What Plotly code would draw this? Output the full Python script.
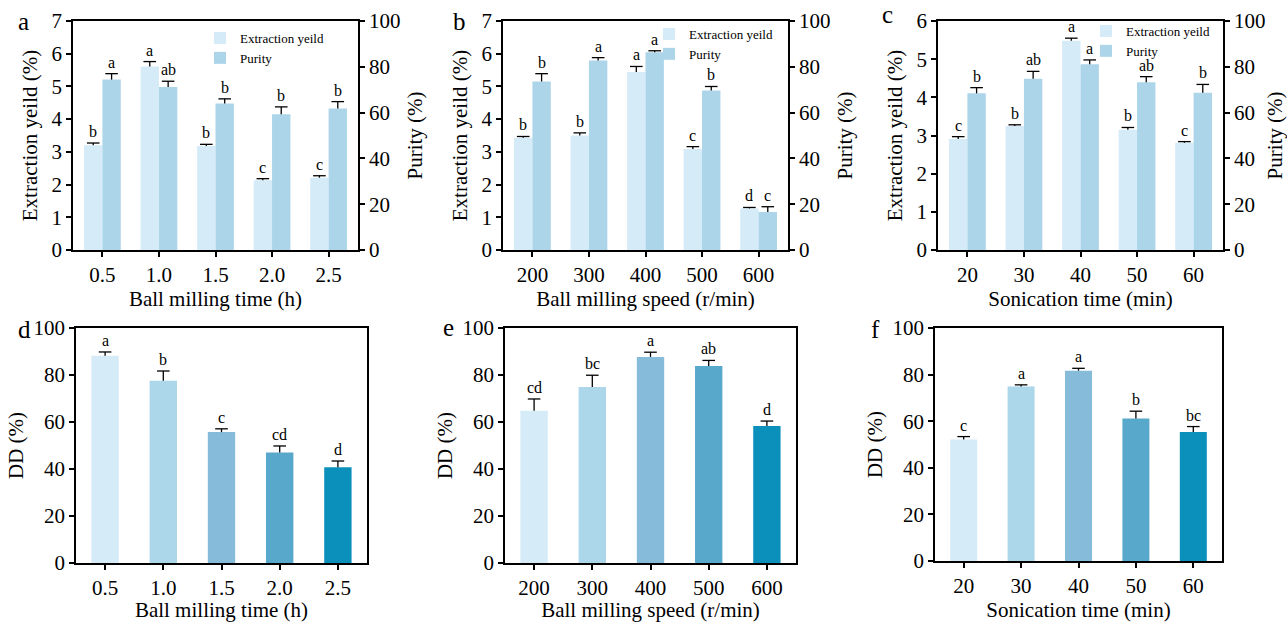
import plotly.graph_objects as go

# ---------------- data ----------------
time_cats = ["0.5", "1.0", "1.5", "2.0", "2.5"]
speed_cats = ["200", "300", "400", "500", "600"]
sonic_cats = ["20", "30", "40", "50", "60"]

a_yield = [3.20, 5.61, 3.18, 2.13, 2.21]
a_yield_err = [0.07, 0.15, 0.05, 0.05, 0.06]
a_yield_sig = ["b", "a", "b", "c", "c"]
a_purity = [74.4, 71.2, 64.0, 59.3, 61.8]
a_purity_err = [2.6, 2.5, 2.0, 3.2, 3.0]
a_purity_sig = ["a", "ab", "b", "b", "b"]

b_yield = [3.43, 3.50, 5.44, 3.09, 1.27]
b_yield_err = [0.04, 0.08, 0.17, 0.07, 0.03]
b_yield_sig = ["b", "b", "a", "c", "d"]
b_purity = [73.6, 82.8, 86.4, 69.7, 16.6]
b_purity_err = [3.4, 1.2, 0.6, 1.7, 2.3]
b_purity_sig = ["b", "a", "a", "b", "c"]

c_yield = [2.91, 3.25, 5.48, 3.15, 2.81]
c_yield_err = [0.06, 0.03, 0.07, 0.06, 0.03]
c_yield_sig = ["c", "b", "a", "b", "c"]
c_purity = [68.4, 74.8, 81.1, 73.2, 68.7]
c_purity_err = [2.5, 3.2, 1.9, 2.5, 3.6]
c_purity_sig = ["b", "ab", "a", "ab", "b"]

d_dd = [88.2, 77.6, 55.7, 47.0, 40.7]
d_err = [1.6, 4.1, 1.4, 2.8, 2.7]
d_sig = ["a", "b", "c", "cd", "d"]

e_dd = [64.8, 74.9, 87.7, 83.8, 58.3]
e_err = [5.0, 5.0, 2.0, 2.4, 2.1]
e_sig = ["cd", "bc", "a", "ab", "d"]

f_dd = [52.1, 74.9, 81.7, 61.2, 55.4]
f_err = [1.3, 0.7, 1.0, 3.1, 2.3]
f_sig = ["c", "a", "a", "b", "bc"]

# ---------------- style ----------------
W, H = 1287, 622
FONT = "Liberation Serif, Times New Roman, serif"
YIELD_C = "#d5ebf8"
PURITY_C = "#acd5ea"
DD_COLORS = ["#d5ebf8", "#acd6ea", "#86bcd9", "#58a8cb", "#0b90bb"]
TICK_FS = 21
TITLE_FS = 21
SIG_FS = 16
BW = 0.325  # grouped bar width (category units)
DDW = 0.47


def px_x(a, b):
    return [a / W, b / W]


def px_y(top, bottom):
    return [1 - bottom / H, 1 - top / H]


fig = go.Figure()
annotations = []


def base_axis():
    return dict(
        showline=True, linecolor="black", linewidth=1.6,
        ticks="outside", ticklen=5, tickwidth=1.5, tickcolor="black",
        tickfont=dict(family=FONT, size=TICK_FS, color="black"),
        showgrid=False, zeroline=False, automargin=False, fixedrange=True,
    )


def stem(arr):
    return dict(type="data", array=arr, arrayminus=[0] * len(arr), symmetric=False,
                color="black", thickness=1.3, width=0)


def add_caps(xs, tops, xa, ya):
    fig.add_trace(go.Scatter(x=xs, y=tops, mode="markers", xaxis=xa, yaxis=ya, showlegend=False,
                             hoverinfo="skip",
                             marker=dict(symbol="line-ew", size=9, color="black",
                                         line=dict(color="black", width=1.3))))


def title(text, standoff):
    return dict(text=text, font=dict(family=FONT, size=TITLE_FS, color="black"), standoff=standoff)


def add_grouped(idx, cats, ys, yerr, ysig, ps, perr, psig, xdom, ydom, yrange,
                xtitle, legend_name, legend_pos, xsta, ysta=8, psta=8):
    xa = "x" if idx == 1 else f"x{idx}"
    ya = "y" if idx == 1 else f"y{idx}"
    y2n = idx + 6
    ya2 = f"y{y2n}"
    pos = list(range(len(cats)))
    xl = [p - BW / 2 for p in pos]
    xr = [p + BW / 2 for p in pos]
    fig.add_trace(go.Bar(x=pos, y=ys, width=BW, offset=-BW, marker=dict(color=YIELD_C, line=dict(width=0)),
                         error_y=stem(yerr), name="Extraction yeild", xaxis=xa, yaxis=ya,
                         legend=legend_name, showlegend=True))
    fig.add_trace(go.Bar(x=pos, y=ps, width=BW, offset=0, marker=dict(color=PURITY_C, line=dict(width=0)),
                         error_y=stem(perr), name="Purity", xaxis=xa, yaxis=ya2,
                         legend=legend_name, showlegend=True))
    add_caps(xl, [v + e for v, e in zip(ys, yerr)], xa, ya)
    add_caps(xr, [v + e for v, e in zip(ps, perr)], xa, ya2)
    xk = "xaxis" if idx == 1 else f"xaxis{idx}"
    yk = "yaxis" if idx == 1 else f"yaxis{idx}"
    y2k = f"yaxis{y2n}"
    xax = base_axis()
    xax.update(domain=xdom, anchor=ya, tickmode="array", tickvals=pos, ticktext=cats,
               range=[-0.52, 4.52], mirror=True, title=title(xtitle, xsta))
    yax = base_axis()
    yax.update(domain=ydom, anchor=xa, range=yrange, dtick=1, mirror=True,
               title=title("Extraction yeild (%)", ysta))
    y2ax = base_axis()
    y2ax.update(domain=ydom, anchor=xa, overlaying=ya, side="right", range=[0, 100], dtick=20,
                title=title("Purity (%)", psta))
    fig.update_layout(**{xk: xax, yk: yax, y2k: y2ax})
    fig.update_layout(**{legend_name: dict(x=legend_pos[0], y=legend_pos[1], xanchor="left", yanchor="top",
                                           bgcolor="rgba(0,0,0,0)", borderwidth=0,
                                           font=dict(family=FONT, size=13, color="black"),
                                           tracegroupgap=0, itemwidth=30)})
    for i in pos:
        annotations.append(dict(x=xl[i], y=ys[i] + yerr[i], xref=xa, yref=ya, text=ysig[i],
                                showarrow=False, yanchor="bottom", yshift=1,
                                font=dict(family=FONT, size=SIG_FS, color="black")))
        annotations.append(dict(x=xr[i], y=ps[i] + perr[i], xref=xa, yref=ya2, text=psig[i],
                                showarrow=False, yanchor="bottom", yshift=1,
                                font=dict(family=FONT, size=SIG_FS, color="black")))


def add_dd(idx, cats, vals, errs, sig, xdom, ydom, xtitle, xsta, ysta=4):
    xa = f"x{idx}"
    ya = f"y{idx}"
    pos = list(range(len(cats)))
    fig.add_trace(go.Bar(x=pos, y=vals, width=DDW, marker=dict(color=DD_COLORS, line=dict(width=0)),
                         error_y=stem(errs), xaxis=xa, yaxis=ya, showlegend=False, name="DD"))
    add_caps(pos, [v + e for v, e in zip(vals, errs)], xa, ya)
    xax = base_axis()
    xax.update(domain=xdom, anchor=ya, tickmode="array", tickvals=pos, ticktext=cats,
               range=[-0.5, 4.5], mirror=True, title=title(xtitle, xsta))
    yax = base_axis()
    yax.update(domain=ydom, anchor=xa, range=[0, 100], dtick=20, mirror=True, title=title("DD (%)", ysta))
    fig.update_layout(**{f"xaxis{idx}": xax, f"yaxis{idx}": yax})
    for i in pos:
        annotations.append(dict(x=pos[i], y=vals[i] + errs[i], xref=xa, yref=ya, text=sig[i],
                                showarrow=False, yanchor="bottom", yshift=1,
                                font=dict(family=FONT, size=SIG_FS, color="black")))


add_grouped(1, time_cats, a_yield, a_yield_err, a_yield_sig, a_purity, a_purity_err, a_purity_sig,
            px_x(73, 358), px_y(21, 250), [0, 7], "Ball milling time (h)", "legend",
            (200 / W, 1 - 23 / H), xsta=0)
add_grouped(2, speed_cats, b_yield, b_yield_err, b_yield_sig, b_purity, b_purity_err, b_purity_sig,
            px_x(503, 788), px_y(21, 250), [0, 7], "Ball milling speed (r/min)", "legend2",
            (649 / W, 1 - 19 / H), xsta=0)
add_grouped(3, sonic_cats, c_yield, c_yield_err, c_yield_sig, c_purity, c_purity_err, c_purity_sig,
            px_x(938, 1223), px_y(21, 250), [0, 6], "Sonication time (min)", "legend3",
            (1086 / W, 1 - 16 / H), xsta=0)

add_dd(4, time_cats, d_dd, d_err, d_sig, px_x(76, 367), px_y(328, 563), "Ball milling time (h)", xsta=1)
add_dd(5, speed_cats, e_dd, e_err, e_sig, px_x(505, 796), px_y(328, 563), "Ball milling speed (r/min)", xsta=0)
add_dd(6, sonic_cats, f_dd, f_err, f_sig, px_x(935, 1222), px_y(328, 561), "Sonication time (min)", xsta=0)

# panel letters
for lab, cx, cy in [("a", 23, 22), ("b", 459, 22), ("c", 888, 15),
                    ("d", 24, 329), ("e", 448, 328), ("f", 875, 329)]:
    annotations.append(dict(x=cx / W, y=1 - cy / H, xref="paper", yref="paper", text=lab,
                            showarrow=False, xanchor="center", yanchor="middle",
                            font=dict(family=FONT, size=25, color="black")))

fig.update_layout(
    template="none",
    width=W, height=H,
    margin=dict(l=0, r=0, t=0, b=0),
    paper_bgcolor="white", plot_bgcolor="rgba(0,0,0,0)",
    barmode="overlay",
    font=dict(family=FONT, color="black"),
    annotations=annotations,
)

fig.write_html("out.html")
